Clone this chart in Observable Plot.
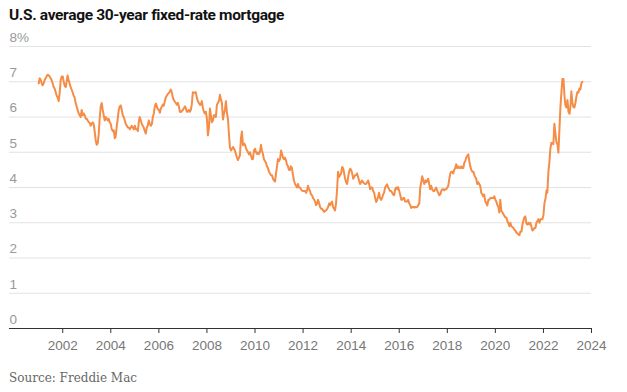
<!DOCTYPE html>
<html>
<head>
<meta charset="utf-8">
<script src="https://cdn.jsdelivr.net/npm/d3@7"></script>
<script src="https://cdn.jsdelivr.net/npm/@observablehq/plot@0.6"></script>
<style>
  body { margin: 0; background: #fff; }
  #wrap { width: 627px; height: 392px; }
  #title { font-family: Roboto, "Liberation Sans", sans-serif; font-weight: 700; font-size: 15.5px; line-height: 20px; color: #121212; margin: 5px 0 0 9px; height: 23px; letter-spacing: -0.35px; white-space: nowrap; }
  #chart { height: 337px; }
  #chart svg { display: block; }
  #source { font-family: "DejaVu Serif", Georgia, serif; font-size: 12px; line-height: 16px; color: #666; margin: 5px 0 0 9px; white-space: nowrap; }
</style>
</head>
<body>
<div id="wrap">
  <div id="title">U.S. average 30-year fixed-rate mortgage</div>
  <div id="chart"></div>
  <div id="source">Source: Freddie Mac</div>
</div>
<script>
// Semi-monthly readings (1st and 16th of each month), percent
const years = [2001,2002,2003,2004,2005,2006,2007,2008,2009,2010,2011,2012,2013,2014,2015,2016,2017,2018,2019,2020,2021,2022,2023];
const rates2001 = [6.95,7.10, 7.05,6.95, 6.90,6.95, 7.05,7.10, 7.15,7.20, 7.18,7.15, 7.10,7.05, 6.95,6.85, 6.80,6.70, 6.60,6.55, 6.45,6.70, 7.05,7.15];
const rates2002 = [7.15,7.00, 6.88,6.85, 7.00,7.18, 7.05,6.95, 6.85,6.78, 6.70,6.60, 6.55,6.40, 6.30,6.20, 6.10,6.05, 6.00,6.20, 6.05,6.10, 6.05,5.95];
const rates2003 = [5.95,5.90, 5.85,5.83, 5.75,5.80, 5.85,5.80, 5.60,5.35, 5.21,5.25, 5.50,5.95, 6.30,6.40, 6.20,6.05, 5.90,6.00, 5.95,5.90, 5.95,5.85];
const rates2004 = [5.80,5.65, 5.60,5.62, 5.40,5.45, 5.75,5.95, 6.20,6.30, 6.33,6.20, 6.05,6.00, 5.90,5.80, 5.75,5.70, 5.70,5.65, 5.70,5.75, 5.70,5.65];
const rates2005 = [5.75,5.65, 5.65,5.60, 5.85,6.00, 5.90,5.80, 5.75,5.70, 5.60,5.53, 5.70,5.75, 5.90,5.80, 5.75,5.80, 6.00,6.10, 6.30,6.38, 6.30,6.22];
const rates2006 = [6.20,6.12, 6.25,6.30, 6.35,6.32, 6.45,6.55, 6.60,6.65, 6.68,6.72, 6.78,6.70, 6.55,6.48, 6.43,6.40, 6.35,6.40, 6.30,6.15, 6.14,6.17];
const rates2007 = [6.20,6.25, 6.30,6.25, 6.15,6.15, 6.20,6.15, 6.20,6.35, 6.70,6.68, 6.70,6.70, 6.55,6.45, 6.40,6.35, 6.35,6.45, 6.25,6.15, 6.10,6.15];
const rates2008 = [5.95,5.48, 5.70,6.24, 6.05,5.85, 5.90,6.05, 6.05,6.00, 6.35,6.40, 6.45,6.63, 6.50,6.40, 5.93,6.10, 6.20,6.45, 6.10,5.95, 5.50,5.14];
const rates2009 = [5.05,5.10, 5.15,5.10, 5.05,4.95, 4.85,4.78, 4.85,4.90, 5.40,5.59, 5.20,5.25, 5.22,5.12, 5.05,5.00, 4.94,5.00, 4.90,4.80, 4.81,5.05];
const rates2010 = [5.10,5.00, 4.95,5.00, 4.95,5.00, 5.21,5.05, 4.95,4.80, 4.75,4.70, 4.60,4.55, 4.45,4.40, 4.35,4.35, 4.25,4.20, 4.17,4.40, 4.60,4.81];
const rates2011 = [4.75,4.80, 5.05,4.95, 4.85,4.80, 4.85,4.78, 4.65,4.60, 4.50,4.50, 4.60,4.55, 4.35,4.20, 4.10,4.05, 4.00,4.10, 4.00,4.00, 3.95,3.91];
const rates2012 = [3.90,3.90, 3.90,3.85, 3.92,4.05, 3.95,3.90, 3.80,3.78, 3.70,3.66, 3.60,3.50, 3.55,3.65, 3.55,3.45, 3.40,3.40, 3.35,3.31, 3.34,3.35];
const rates2013 = [3.40,3.45, 3.55,3.50, 3.55,3.60, 3.45,3.40, 3.35,3.55, 3.95,4.45, 4.30,4.35, 4.40,4.58, 4.55,4.40, 4.25,4.15, 4.10,4.30, 4.45,4.53];
const rates2014 = [4.50,4.40, 4.25,4.30, 4.35,4.35, 4.40,4.30, 4.20,4.10, 4.15,4.20, 4.15,4.12, 4.10,4.10, 4.15,4.20, 4.10,3.95, 4.00,4.00, 3.90,3.85];
const rates2015 = [3.70,3.59, 3.65,3.75, 3.85,3.70, 3.65,3.70, 3.80,3.85, 4.00,4.05, 4.09,4.00, 3.95,3.90, 3.90,3.85, 3.80,3.78, 3.95,4.00, 3.95,4.01];
const rates2016 = [3.90,3.80, 3.65,3.65, 3.70,3.70, 3.60,3.60, 3.60,3.65, 3.55,3.50, 3.42,3.45, 3.45,3.43, 3.45,3.44, 3.45,3.50, 3.55,4.00, 4.15,4.32];
const rates2017 = [4.20,4.10, 4.20,4.15, 4.20,4.25, 4.10,3.95, 4.05,3.95, 3.90,3.90, 3.95,4.00, 3.90,3.85, 3.78,3.80, 3.90,3.95, 3.95,3.92, 3.95,3.95];
const rates2018 = [4.00,4.05, 4.25,4.40, 4.45,4.45, 4.40,4.50, 4.55,4.66, 4.55,4.60, 4.55,4.55, 4.60,4.55, 4.55,4.70, 4.75,4.85, 4.90,4.94, 4.75,4.60];
const rates2019 = [4.50,4.45, 4.45,4.35, 4.30,4.25, 4.10,4.15, 4.10,4.05, 3.85,3.80, 3.75,3.80, 3.60,3.55, 3.49,3.65, 3.65,3.70, 3.70,3.70, 3.70,3.75];
const rates2020 = [3.65,3.60, 3.50,3.45, 3.29,3.65, 3.33,3.30, 3.25,3.20, 3.15,3.15, 3.05,2.98, 2.90,3.00, 2.90,2.88, 2.85,2.80, 2.78,2.72, 2.70,2.67];
const rates2021 = [2.65,2.75, 2.75,2.95, 3.05,3.15, 3.18,2.98, 2.95,3.00, 2.95,3.00, 2.90,2.78, 2.80,2.85, 2.85,3.00, 3.05,3.10, 3.00,3.10, 3.10,3.10];
const rates2022 = [3.22,3.55, 3.69,3.92, 3.85,4.42, 4.72,5.10, 5.27,5.25, 5.23,5.81, 5.54,5.30, 5.22,4.99, 5.66,6.29, 6.70,7.08, 7.08,6.61, 6.33,6.27];
const rates2023 = [6.48,6.15, 6.09,6.32, 6.73,6.42, 6.28,6.27, 6.39,6.57, 6.71,6.69, 6.81,6.78, 6.96,7.00];
const yearRates = [rates2001,rates2002,rates2003,rates2004,rates2005,rates2006,rates2007,rates2008,rates2009,rates2010,rates2011,rates2012,rates2013,rates2014,rates2015,rates2016,rates2017,rates2018,rates2019,rates2020,rates2021,rates2022,rates2023];

const yTicks = [0,1,2,3,4,5,6,7,8];
const xTickYears = [2002,2004,2006,2008,2010,2012,2014,2016,2018,2020,2022,2024];

const data = [];
years.forEach((yr, k) => {
  yearRates[k].forEach((v, i) => {
    data.push({date: new Date(Date.UTC(yr, Math.floor(i / 2), i % 2 ? 16 : 1)), rate: v});
  });
});
const xTicks = xTickYears.map(y => new Date(Date.UTC(y, 0, 1)));

const chart = Plot.plot({
  width: 627,
  height: 337,
  marginLeft: 9,
  marginRight: 36,
  marginTop: 18,
  marginBottom: 37,
  style: {fontFamily: '"Liberation Sans", Arial, sans-serif', fontSize: "13.5px", background: "transparent", overflow: "visible"},
  x: {type: "utc", domain: [new Date(Date.UTC(1999, 9, 15)), new Date(Date.UTC(2024, 0, 1))], axis: null},
  y: {domain: [0, 8], axis: null},
  marks: [
    Plot.ruleY(yTicks.filter(d => d > 0), {stroke: "#e2e2e2", strokeWidth: 1}),
    Plot.text(yTicks, {y: d => d, frameAnchor: "left", text: d => d === 8 ? "8%" : String(d), textAnchor: "start", dy: -9, fill: "#999", fontSize: 13.5}),
    Plot.ruleY([0], {stroke: "#333", strokeWidth: 1}),
    Plot.axisX({ticks: xTicks, tickSize: 5, tickFormat: d => String(d.getUTCFullYear()), tickPadding: 7, fill: "#777", stroke: "#333", fontSize: 13.5}),
    Plot.line(data, {x: "date", y: "rate", stroke: "#f58d47", strokeWidth: 2, strokeLinejoin: "round"})
  ]
});
document.getElementById("chart").appendChild(chart);
</script>
</body>
</html>
